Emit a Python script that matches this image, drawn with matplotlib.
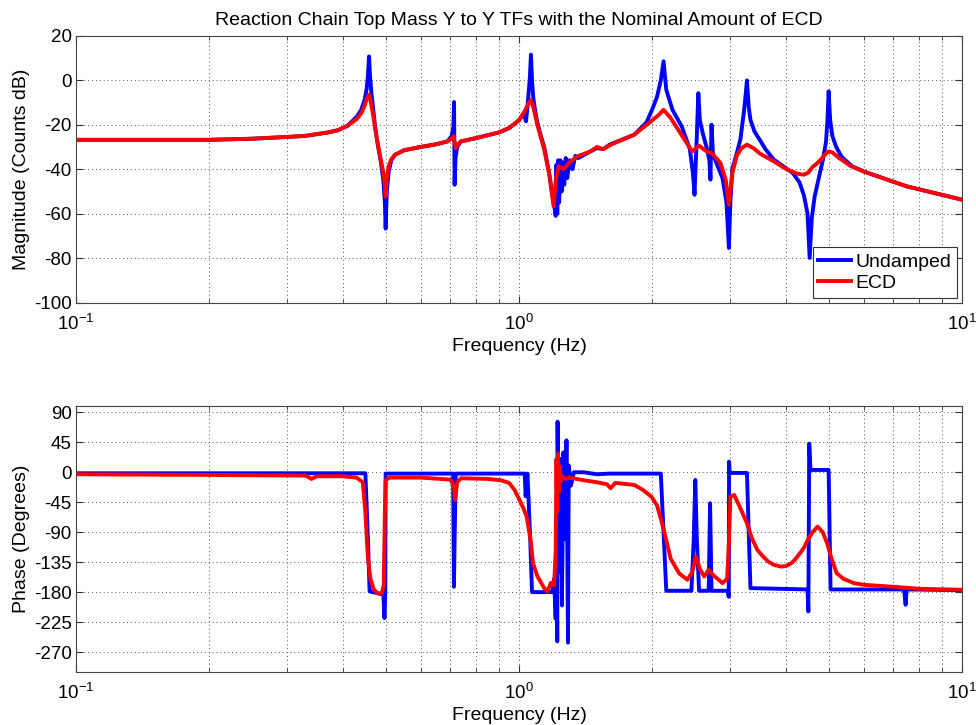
import math
import matplotlib
matplotlib.use("Agg")
import matplotlib.pyplot as plt
from matplotlib.ticker import LogLocator, FixedLocator, NullFormatter, FuncFormatter

# ---------------- data ----------------
mag_freq_undamped = [0.1, 0.2, 0.25, 0.3, 0.33, 0.37, 0.39, 0.41, 0.43, 0.44, 0.448, 0.453, 0.456,
                     0.4586, 0.461, 0.464, 0.468, 0.474, 0.481, 0.488, 0.494, 0.498, 0.5, 0.503,
                     0.508, 0.515, 0.525, 0.55, 0.6, 0.65, 0.69, 0.705, 0.711, 0.7135, 0.7155,
                     0.719, 0.725, 0.74, 0.8, 0.9, 0.95, 1.0, 1.025, 1.037, 1.045, 1.052, 1.058,
                     1.064, 1.07, 1.077, 1.088, 1.1, 1.12, 1.14, 1.17, 1.19, 1.2, 1.21, 1.215,
                     1.22, 1.225, 1.232, 1.24, 1.248, 1.256, 1.265, 1.275, 1.285, 1.3, 1.32, 1.34,
                     1.36, 1.45, 1.5, 1.55, 1.6, 1.82, 1.94, 2.0, 2.05, 2.09, 2.12, 2.15, 2.22,
                     2.33, 2.43, 2.47, 2.49, 2.52, 2.54, 2.56, 2.6, 2.65, 2.69, 2.705, 2.72,
                     2.74, 2.8, 2.88, 2.94, 2.977, 3.0, 3.03, 3.1, 3.16, 3.22, 3.25, 3.27, 3.3,
                     3.33, 3.4, 3.5, 3.6, 3.76, 4.0, 4.15, 4.3, 4.4, 4.48, 4.53, 4.58, 4.65,
                     4.75, 4.85, 4.93, 4.97, 5.0, 5.04, 5.1, 5.2, 5.35, 5.65, 6.0, 7.5, 10.0]
mag_undamped = [-26.8, -26.8, -26.3, -25.5, -25, -23.5, -22.5, -20.5, -16.5, -13.5, -9, -4, 2,
                10.7, 2, -5, -12, -22, -30, -37, -45, -55, -66.7, -50,
                -41, -36, -33.5, -31.5, -30, -28.8, -27.5, -25, -21, -9.8, -47,
                -35, -30, -27.5, -26, -23.5, -21.5, -18, -15, -18.5, -12, -5, 1,
                11.5, 0, -8, -14, -19, -25, -30, -42, -52, -56, -61, -38,
                -60, -36, -55, -36, -50, -37, -47, -35, -44, -36, -40, -34,
                -35, -32, -30.5, -31, -29, -24.5, -19, -13, -7.3, 0, 8.5, -4.3, -13.3,
                -20.8, -31, -42, -51.5, -25, -5.8, -18, -24, -30, -36, -44.7, -20,
                -33, -38, -44, -55, -75.4, -55, -40, -33, -26.7, -14, -6, -0.1, -12,
                -17.8, -23, -27, -31, -35.7, -39.5, -41.7, -46, -52, -60, -79.9, -62, -52.2,
                -44, -36, -28, -18, -5, -18, -25.2, -30, -34.5, -38.7, -41, -47.7, -53.7]

mag_freq_ecd = [0.1, 0.2, 0.25, 0.3, 0.33, 0.37, 0.39, 0.41, 0.43, 0.441, 0.448, 0.454, 0.4586,
                0.462, 0.467, 0.474, 0.481, 0.488, 0.494, 0.498, 0.5, 0.503, 0.508, 0.515,
                0.525, 0.55, 0.6, 0.65, 0.69, 0.705, 0.712, 0.716, 0.72, 0.73, 0.74, 0.8,
                0.9, 0.95, 1.0, 1.03, 1.05, 1.064, 1.08, 1.1, 1.14, 1.17, 1.197, 1.21, 1.23,
                1.26, 1.3, 1.355, 1.45, 1.5, 1.55, 1.61, 1.82, 2.0, 2.07, 2.12, 2.2, 2.3,
                2.46, 2.55, 2.65, 2.72, 2.85, 2.93, 2.977, 3.03, 3.1, 3.18, 3.27, 3.38, 3.5,
                3.76, 4.03, 4.25, 4.39, 4.5, 4.6, 4.7, 4.8, 4.9, 5.0, 5.1, 5.28, 5.6, 5.99,
                7.5, 10.0]
mag_ecd = [-26.8, -26.8, -26.3, -25.5, -25, -23.5, -22.5, -20.5, -17.5, -14.7, -11.5, -8, -6.5,
           -9, -14, -22, -29.8, -36, -41.7, -47, -52.2, -44, -38.7, -35.5,
           -33.5, -31.5, -30, -28.8, -27.5, -26.2, -25.2, -28, -30.5, -28.5, -27.5, -26,
           -23.5, -21.5, -18, -14, -10.5, -8.8, -13, -20, -31.2, -42, -56.7, -45, -38.7,
           -40, -37, -34.2, -32, -30, -31, -29, -24.5, -18, -15.5, -13.3, -17, -23,
           -32, -29.4, -32, -32.7, -37.2, -45, -56, -42, -34, -30.5, -29, -30.5, -33,
           -36.5, -40.2, -42, -42.5, -41.5, -39, -37.5, -35.7, -33.5, -32, -32.5, -35, -38.5, -41,
           -47.7, -53.7]

ph_freq_undamped = [0.1, 0.3, 0.45, 0.456, 0.46, 0.49, 0.494, 0.497, 0.499, 0.5, 0.6, 0.71,
                    0.713, 0.716, 0.72, 1.03, 1.035, 1.045, 1.06, 1.07, 1.19, 1.2, 1.21,
                    1.215, 1.22, 1.222, 1.23, 1.24, 1.25, 1.26, 1.27, 1.28, 1.29, 1.295,
                    1.31, 1.33, 1.4, 1.5, 1.6, 2.09, 2.15, 2.45, 2.48, 2.5, 2.52, 2.55, 2.68,
                    2.70, 2.72, 2.96, 2.975, 2.98, 2.99, 3.27, 3.33, 4.48, 4.50, 4.52, 4.55,
                    5.0, 5.05, 7.4, 7.46, 7.5, 10.0]
ph_undamped = [-1.5, -1.5, -1.5, -100, -179, -183, -182, -219, -180, -2, -2, -2,
               -172, -90, -2, -2, -36, -2, -100, -180, -180, -160, -220,
               -100, -254, 76, -150, 20, -200, 30, -100, 48, -256, 10,
               -20, 0, 0, -3, -2, -2, -178, -178, -100, -11.5, -100, -178, -178,
               -46.5, -178, -178, -187, 16, -1, -1, -174, -176, -209, 43, 3.5,
               3.5, -176, -176, -199, -176, -177]

ph_freq_ecd = [0.1, 0.2, 0.33, 0.34, 0.35, 0.4, 0.43, 0.444, 0.45, 0.456, 0.462, 0.47,
               0.48, 0.49, 0.495, 0.498, 0.5, 0.51, 0.6, 0.7, 0.712, 0.718, 0.725, 0.74,
               0.85, 0.91, 0.95, 0.976, 1.0, 1.02, 1.04, 1.055, 1.064, 1.075, 1.1, 1.14,
               1.16, 1.18, 1.2, 1.21, 1.215, 1.22, 1.225, 1.23, 1.235, 1.24, 1.25, 1.27,
               1.3, 1.4, 1.5, 1.58, 1.61, 1.65, 1.82, 1.9, 1.99, 2.05, 2.12, 2.2, 2.3,
               2.40, 2.46, 2.51, 2.56, 2.62, 2.68, 2.75, 2.88, 2.95, 2.98, 3.0, 3.06, 3.15,
               3.27, 3.35, 3.45, 3.55, 3.65, 3.76, 3.90, 4.0, 4.12, 4.2, 4.31, 4.4, 4.5,
               4.6, 4.72, 4.85, 4.96, 5.05, 5.21, 5.4, 5.7, 6.0, 7.0, 8.0, 10.0]
ph_ecd = [-3, -4, -5, -10, -6, -6, -8, -15, -60, -130, -160, -176,
          -182, -182, -170, -60, -12, -8, -8, -11, -20, -41.5, -15, -9,
          -10, -12, -16, -26, -40, -52, -66, -90, -106, -136, -156, -174,
          -179, -166, -170, -120, 20, -60, 28, -30, 10, -15, -5, -10,
          -8, -12, -15, -18, -24, -16, -19, -26, -36.6, -50, -85, -130, -152,
          -161.5, -150, -126.6, -145, -156.6, -146.5, -155, -166.5, -160, -100, -36.6, -34, -52,
          -76.5, -98, -116.5, -126, -134, -139, -141.6, -141, -136.5, -131, -121.5, -113, -100,
          -90, -81.6, -90, -106.5, -125, -151.5, -160, -166.5, -169, -172, -175, -176.5]

title_text = "Reaction Chain Top Mass Y to Y TFs with the Nominal Amount of ECD"
series_labels = ["Undamped", "ECD"]
mag_ticks = [20, 0, -20, -40, -60, -80, -100]
phase_ticks = [90, 45, 0, -45, -90, -135, -180, -225, -270]

# ---------------- styling ----------------
plt.rcParams['font.family'] = ['Liberation Sans', 'DejaVu Sans']
plt.rcParams['axes.unicode_minus'] = False
plt.rcParams['mathtext.default'] = 'regular'
FS = 14
TFS = 13.5

fig = plt.figure(figsize=(9.76, 7.25), dpi=100)
ax1 = fig.add_axes([76/976, 1-302.7/725, 886/976, (302.7-35.7)/725])
ax2 = fig.add_axes([76/976, 1-672/725, 886/976, (672-405.7)/725])

BLUE = (0, 0, 1)
RED = (1, 0, 0)
LW = 2.8

ax1.plot(mag_freq_undamped, mag_undamped, color=BLUE, lw=LW, label=series_labels[0])
ax1.plot(mag_freq_ecd, mag_ecd, color=RED, lw=LW, label=series_labels[1])
ax2.plot(ph_freq_undamped, ph_undamped, color=BLUE, lw=LW)
ax2.plot(ph_freq_ecd, ph_ecd, color=RED, lw=LW)

def fmt_pow(v, pos):
    e = int(round(math.log10(v)))
    return r'$10^{%d}$' % e

for ax in (ax1, ax2):
    ax.set_xscale('log')
    ax.set_xlim(0.1, 10)
    ax.xaxis.set_major_locator(LogLocator(base=10, numticks=5))
    ax.xaxis.set_minor_locator(LogLocator(base=10, subs=range(2, 10), numticks=20))
    ax.xaxis.set_minor_formatter(NullFormatter())
    ax.xaxis.set_major_formatter(FuncFormatter(fmt_pow))
    ax.grid(True, which='major', axis='both', linestyle=(0, (1, 3)), color='#555555', lw=0.7)
    ax.grid(True, which='minor', axis='x', linestyle=(0, (1, 3)), color='#555555', lw=0.7)
    ax.tick_params(which='both', direction='in', top=True, right=True, labelsize=TFS,
                   color='#333333')
    ax.tick_params(which='major', length=5)
    ax.tick_params(which='minor', length=3)
    ax.tick_params(axis='x', pad=8)
    ax.tick_params(axis='y', pad=3)
    for s in ax.spines.values():
        s.set_color('#444444')
        s.set_linewidth(0.8)
    ax.set_xlabel("Frequency (Hz)", fontsize=FS, labelpad=3)

ax1.set_ylim(-100, 20)
ax1.yaxis.set_major_locator(FixedLocator(mag_ticks))
ax1.set_ylabel("Magnitude (Counts dB)", fontsize=FS, labelpad=3)
ax1.set_title(title_text, fontsize=FS, pad=8)

ax2.set_ylim(-300, 100)
ax2.yaxis.set_major_locator(FixedLocator(phase_ticks))
ax2.set_ylabel("Phase (Degrees)", fontsize=FS, labelpad=3)

leg = ax1.legend(loc='lower right', fontsize=FS, fancybox=False, framealpha=1,
                 edgecolor='#333333', borderpad=0.3, handlelength=1.65, handletextpad=0.25,
                 labelspacing=0.2, borderaxespad=0.25)
leg.get_frame().set_linewidth(0.8)

fig.savefig("out.png", dpi=100)
